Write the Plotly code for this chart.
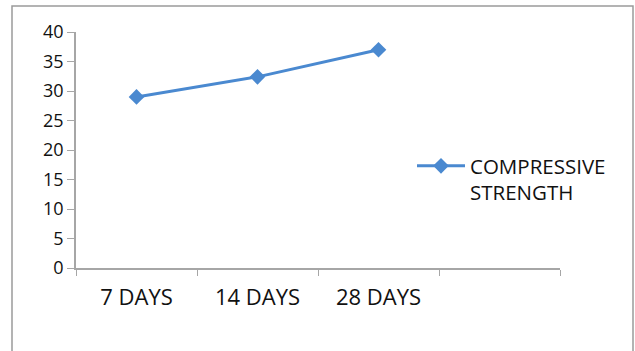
import plotly.graph_objects as go

# Compressive strength by curing age
ages = ["7 DAYS", "14 DAYS", "28 DAYS", " "]
strength = [29.0, 32.4, 37.0]
y_ticks = [0, 5, 10, 15, 20, 25, 30, 35, 40]

W, H = 635, 351
L, R, T, B = 76, 75, 32, 83
pw, ph = W - L - R, H - T - B

def px_x(x):
    return (x - L) / pw

def px_y(y):
    return (H - B - y) / ph

blue = "#4A89D0"
axis_grey = "#a6a6a6"
font = "Open Sans"

fig = go.Figure()
fig.add_trace(go.Scatter(
    x=ages[:len(strength)], y=strength,
    mode="lines+markers",
    name="COMPRESSIVE<br>STRENGTH",
    line=dict(color=blue, width=3),
    marker=dict(symbol="diamond", size=12, color=blue),
))

fig.update_layout(
    width=W, height=H,
    margin=dict(l=L, r=R, t=T, b=B),
    paper_bgcolor="white", plot_bgcolor="white",
    font=dict(family=font, size=18, color="#111111"),
    showlegend=True,
    legend=dict(
        x=px_x(412), y=px_y(146), xanchor="left", yanchor="top",
        font=dict(size=20.5), bgcolor="rgba(0,0,0,0)",
        valign="top", itemwidth=48,
    ),
    xaxis=dict(
        type="category", categoryorder="array", categoryarray=ages,
        range=[-0.5, len(ages) - 0.5],
        tickson="boundaries", ticks="outside", ticklen=6,
        tickcolor=axis_grey, showline=True, linecolor=axis_grey, linewidth=1.5,
        showgrid=False, zeroline=False,
        tickfont=dict(size=22), ticklabelstandoff=9,
    ),
    yaxis=dict(
        range=[0, 40], tickvals=y_ticks,
        ticks="outside", ticklen=7, tickcolor=axis_grey,
        showline=True, linecolor=axis_grey, linewidth=1.5,
        showgrid=False, zeroline=False,
        tickfont=dict(size=18),
    ),
    shapes=[dict(
        type="rect", xref="paper", yref="paper",
        x0=px_x(12), x1=px_x(633), y0=px_y(360), y1=px_y(6),
        line=dict(color="#9a9a9a", width=1.5), fillcolor="rgba(0,0,0,0)",
        layer="below",
    )],
)

fig.write_html("out.html")
